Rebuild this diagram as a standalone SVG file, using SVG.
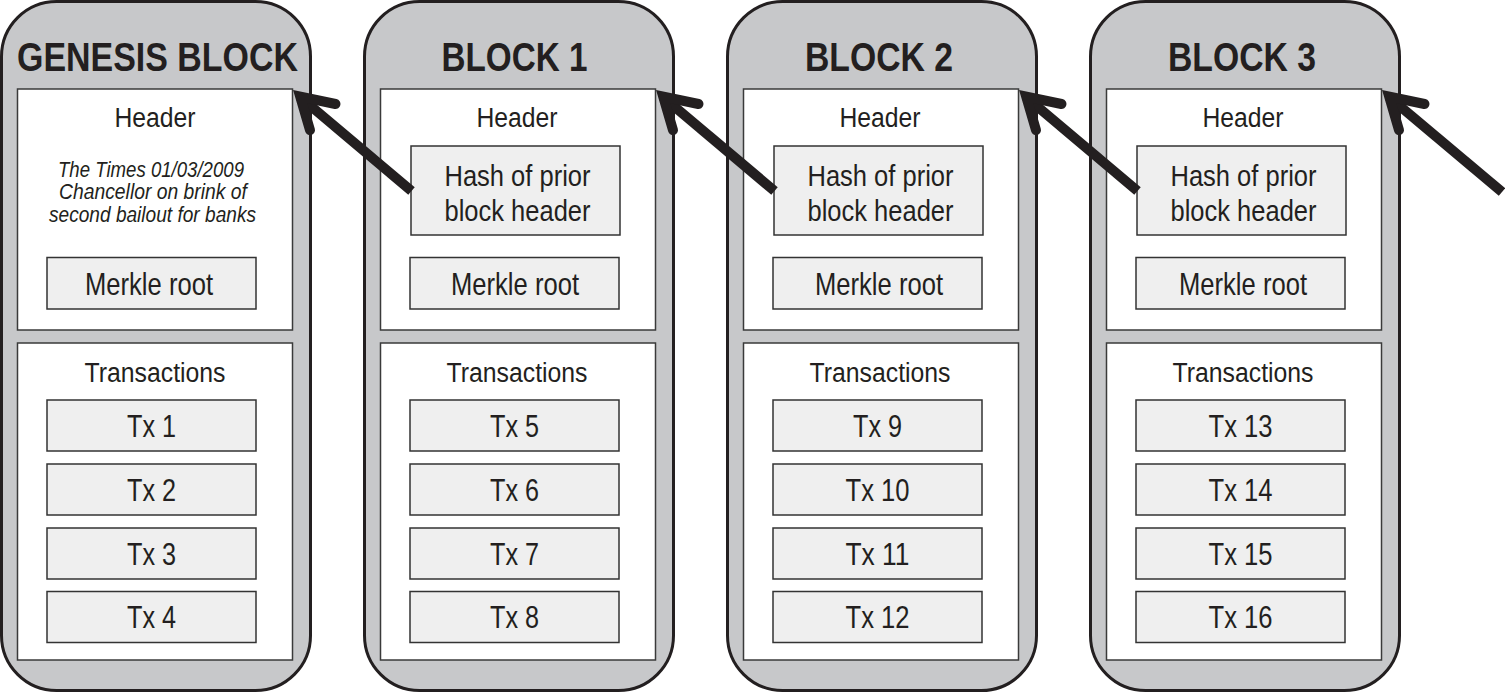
<svg xmlns="http://www.w3.org/2000/svg" width="1505" height="695" viewBox="0 0 1505 695">
<defs>
<style>
.outer{fill:#c7c8ca;stroke:#231f20;stroke-width:3}
.panel{fill:#ffffff;stroke:#3a3a3a;stroke-width:1.5}
.box{fill:#efefef;stroke:#333333;stroke-width:1.5}
text{font-family:"Liberation Sans",Arial,sans-serif;fill:#231f20;text-anchor:middle}
.title{font-size:40.5px;font-weight:bold}
.hdr{font-size:27px}
.lbl{font-size:29px}
.trn{font-size:27px}
.mk{font-size:30.5px}
.tx{font-size:30.5px}
.it{font-size:21.5px;font-style:italic}
.arr{fill:none;stroke:#231f20;stroke-width:10}
.head{stroke-linecap:round;stroke-linejoin:miter;stroke-miterlimit:10}
</style>
</defs>

<g id="genesis">
<rect class="outer" x="1.5" y="1.5" width="309" height="689" rx="55" ry="55"/>
<text class="title" x="157.5" y="70.5" textLength="281" lengthAdjust="spacingAndGlyphs">GENESIS BLOCK</text>
<rect class="panel" x="17.5" y="89" width="275" height="241"/>
<text class="hdr" x="155" y="127.3" textLength="81" lengthAdjust="spacingAndGlyphs">Header</text>
<text class="it" x="151" y="176.7" textLength="186" lengthAdjust="spacingAndGlyphs">The Times 01/03/2009</text>
<text class="it" x="153" y="199.3" textLength="188" lengthAdjust="spacingAndGlyphs">Chancellor on brink of</text>
<text class="it" x="152.5" y="221.8" textLength="207" lengthAdjust="spacingAndGlyphs">second bailout for banks</text>
<rect class="box" x="47" y="257.5" width="209" height="51.5"/>
<text class="mk" x="149" y="295" textLength="128" lengthAdjust="spacingAndGlyphs">Merkle root</text>
<rect class="panel" x="17.5" y="343" width="275" height="317"/>
<text class="trn" x="155" y="381.7" textLength="141" lengthAdjust="spacingAndGlyphs">Transactions</text>
<rect class="box" x="47" y="400" width="209" height="51"/>
<text class="tx" x="151.5" y="436.8" textLength="49" lengthAdjust="spacingAndGlyphs">Tx 1</text>
<rect class="box" x="47" y="464" width="209" height="51"/>
<text class="tx" x="151.5" y="500.8" textLength="49" lengthAdjust="spacingAndGlyphs">Tx 2</text>
<rect class="box" x="47" y="528" width="209" height="51"/>
<text class="tx" x="151.5" y="564.8" textLength="49" lengthAdjust="spacingAndGlyphs">Tx 3</text>
<rect class="box" x="47" y="591.5" width="209" height="51"/>
<text class="tx" x="151.5" y="628.3" textLength="49" lengthAdjust="spacingAndGlyphs">Tx 4</text>
</g>

<g id="block1" transform="translate(363,0)">
<rect class="outer" x="1.5" y="1.5" width="309" height="689" rx="55" ry="55"/>
<text class="title" x="151.5" y="70.5" textLength="146" lengthAdjust="spacingAndGlyphs">BLOCK 1</text>
<rect class="panel" x="17.5" y="89" width="275" height="241"/>
<text class="hdr" x="154" y="127.3" textLength="81" lengthAdjust="spacingAndGlyphs">Header</text>
<rect class="box" x="48" y="146" width="209" height="89"/>
<text class="lbl" x="154.5" y="185.5" textLength="146" lengthAdjust="spacingAndGlyphs">Hash of prior</text>
<text class="lbl" x="154.5" y="220.5" textLength="146" lengthAdjust="spacingAndGlyphs">block header</text>
<rect class="box" x="47" y="257.5" width="209" height="51.5"/>
<text class="mk" x="152" y="295" textLength="128" lengthAdjust="spacingAndGlyphs">Merkle root</text>
<rect class="panel" x="17.5" y="343" width="275" height="317"/>
<text class="trn" x="154" y="381.7" textLength="141" lengthAdjust="spacingAndGlyphs">Transactions</text>
<rect class="box" x="47" y="400" width="209" height="51"/>
<text class="tx" x="151.5" y="436.8" textLength="49" lengthAdjust="spacingAndGlyphs">Tx 5</text>
<rect class="box" x="47" y="464" width="209" height="51"/>
<text class="tx" x="151.5" y="500.8" textLength="49" lengthAdjust="spacingAndGlyphs">Tx 6</text>
<rect class="box" x="47" y="528" width="209" height="51"/>
<text class="tx" x="151.5" y="564.8" textLength="49" lengthAdjust="spacingAndGlyphs">Tx 7</text>
<rect class="box" x="47" y="591.5" width="209" height="51"/>
<text class="tx" x="151.5" y="628.3" textLength="49" lengthAdjust="spacingAndGlyphs">Tx 8</text>
</g>

<g id="block2" transform="translate(726,0)">
<rect class="outer" x="1.5" y="1.5" width="309" height="689" rx="55" ry="55"/>
<text class="title" x="153" y="70.5" textLength="148" lengthAdjust="spacingAndGlyphs">BLOCK 2</text>
<rect class="panel" x="17.5" y="89" width="275" height="241"/>
<text class="hdr" x="154" y="127.3" textLength="81" lengthAdjust="spacingAndGlyphs">Header</text>
<rect class="box" x="48" y="146" width="209" height="89"/>
<text class="lbl" x="154.5" y="185.5" textLength="146" lengthAdjust="spacingAndGlyphs">Hash of prior</text>
<text class="lbl" x="154.5" y="220.5" textLength="146" lengthAdjust="spacingAndGlyphs">block header</text>
<rect class="box" x="47" y="257.5" width="209" height="51.5"/>
<text class="mk" x="153" y="295" textLength="128" lengthAdjust="spacingAndGlyphs">Merkle root</text>
<rect class="panel" x="17.5" y="343" width="275" height="317"/>
<text class="trn" x="154" y="381.7" textLength="141" lengthAdjust="spacingAndGlyphs">Transactions</text>
<rect class="box" x="47" y="400" width="209" height="51"/>
<text class="tx" x="151.5" y="436.8" textLength="49" lengthAdjust="spacingAndGlyphs">Tx 9</text>
<rect class="box" x="47" y="464" width="209" height="51"/>
<text class="tx" x="151.5" y="500.8" textLength="64" lengthAdjust="spacingAndGlyphs">Tx 10</text>
<rect class="box" x="47" y="528" width="209" height="51"/>
<text class="tx" x="151.5" y="564.8" textLength="64" lengthAdjust="spacingAndGlyphs">Tx 11</text>
<rect class="box" x="47" y="591.5" width="209" height="51"/>
<text class="tx" x="151.5" y="628.3" textLength="64" lengthAdjust="spacingAndGlyphs">Tx 12</text>
</g>

<g id="block3" transform="translate(1089,0)">
<rect class="outer" x="1.5" y="1.5" width="309" height="689" rx="55" ry="55"/>
<text class="title" x="153" y="70.5" textLength="148" lengthAdjust="spacingAndGlyphs">BLOCK 3</text>
<rect class="panel" x="17.5" y="89" width="275" height="241"/>
<text class="hdr" x="154" y="127.3" textLength="81" lengthAdjust="spacingAndGlyphs">Header</text>
<rect class="box" x="48" y="146" width="209" height="89"/>
<text class="lbl" x="154.5" y="185.5" textLength="146" lengthAdjust="spacingAndGlyphs">Hash of prior</text>
<text class="lbl" x="154.5" y="220.5" textLength="146" lengthAdjust="spacingAndGlyphs">block header</text>
<rect class="box" x="47" y="257.5" width="209" height="51.5"/>
<text class="mk" x="154" y="295" textLength="128" lengthAdjust="spacingAndGlyphs">Merkle root</text>
<rect class="panel" x="17.5" y="343" width="275" height="317"/>
<text class="trn" x="154" y="381.7" textLength="141" lengthAdjust="spacingAndGlyphs">Transactions</text>
<rect class="box" x="47" y="400" width="209" height="51"/>
<text class="tx" x="151.5" y="436.8" textLength="64" lengthAdjust="spacingAndGlyphs">Tx 13</text>
<rect class="box" x="47" y="464" width="209" height="51"/>
<text class="tx" x="151.5" y="500.8" textLength="64" lengthAdjust="spacingAndGlyphs">Tx 14</text>
<rect class="box" x="47" y="528" width="209" height="51"/>
<text class="tx" x="151.5" y="564.8" textLength="64" lengthAdjust="spacingAndGlyphs">Tx 15</text>
<rect class="box" x="47" y="591.5" width="209" height="51"/>
<text class="tx" x="151.5" y="628.3" textLength="64" lengthAdjust="spacingAndGlyphs">Tx 16</text>
</g>

<g id="connectors">
<g id="arrow1-0">
<path class="arr" d="M300,97 L411.5,191"/>
<path class="arr head" d="M335.5,104 L300.2,96.6 L310,130.2"/>
</g>
<g id="arrow2-1" transform="translate(363,0)">
<path class="arr" d="M300,97 L411.5,191"/>
<path class="arr head" d="M335.5,104 L300.2,96.6 L310,130.2"/>
</g>
<g id="arrow3-2" transform="translate(726,0)">
<path class="arr" d="M300,97 L411.5,191"/>
<path class="arr head" d="M335.5,104 L300.2,96.6 L310,130.2"/>
</g>
<g id="arrow-next-3" transform="translate(1089,0)">
<path class="arr" d="M300,97 L413,192"/>
<path class="arr head" d="M335.5,104 L300.2,96.6 L310,130.2"/>
</g>
</g>
</svg>
